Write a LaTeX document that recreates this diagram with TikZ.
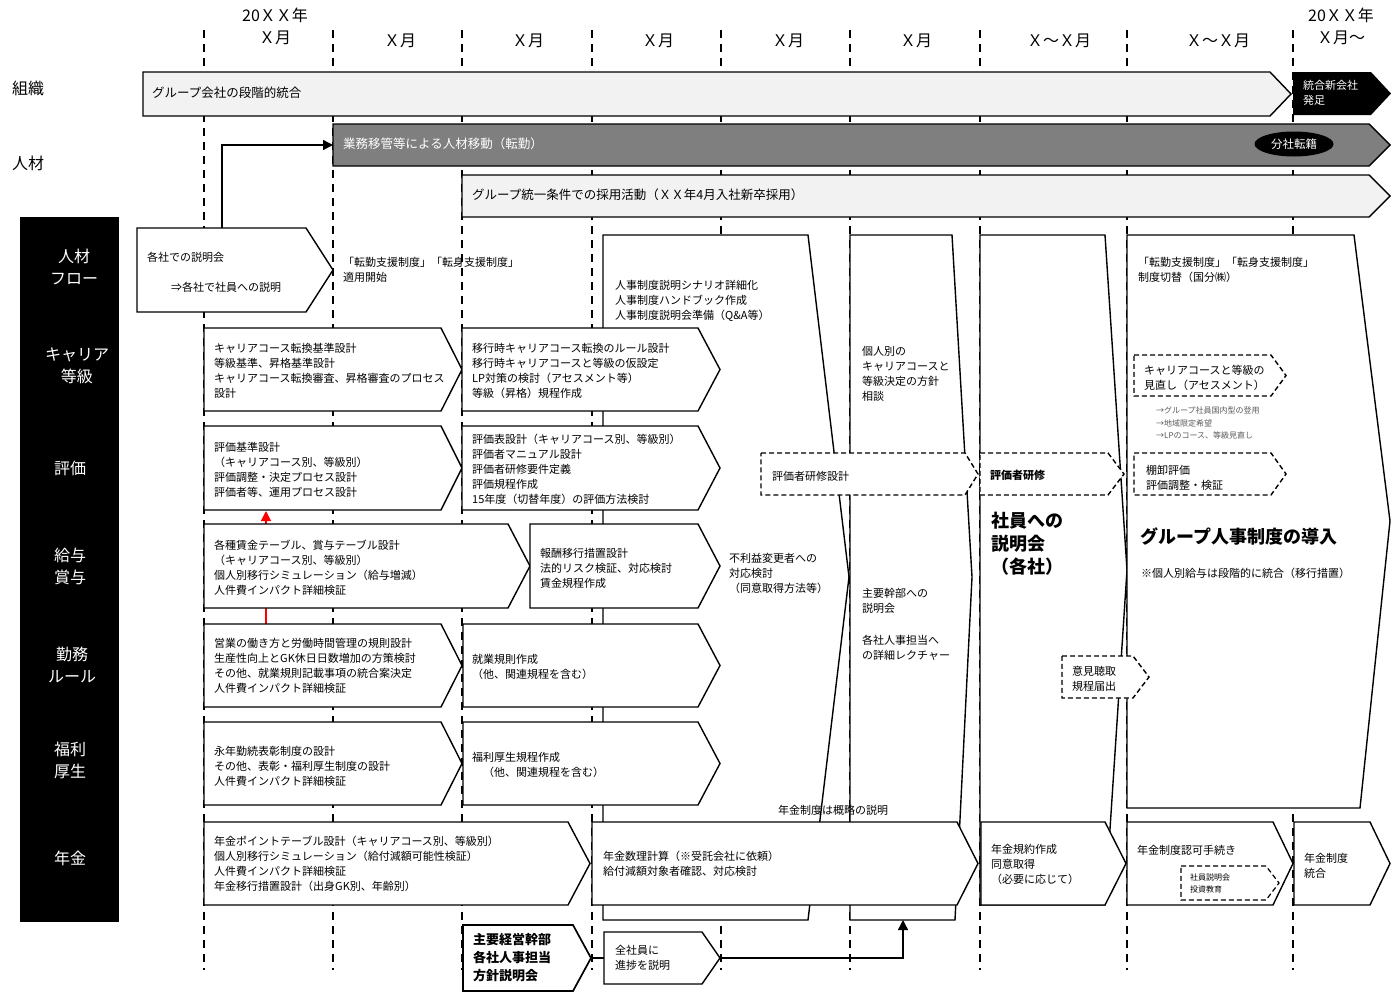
\documentclass[tikz,border=0pt]{standalone}
\usepackage{fontspec}
\setmainfont{Noto Sans CJK JP}
\usepackage{tikz}
\usetikzlibrary{arrows.meta,shapes.geometric}
\definecolor{barlight}{HTML}{F2F2F2}
\definecolor{bardark}{HTML}{7F7F7F}
\definecolor{notegray}{HTML}{595959}
\tikzset{
  guide/.style={line width=1.2pt, dash pattern=on 8pt off 6pt},
  chev/.style={draw, fill=white, line width=1.4pt},
  bar/.style={draw, fill=barlight, line width=1.4pt},
  darkbar/.style={draw, fill=bardark, line width=1.4pt},
  dashbox/.style={draw, fill=white, line width=1.4pt, dash pattern=on 5pt off 3pt},
  txt/.style={anchor=west, inner sep=0pt, align=left,
    font=\fontsize{11}{15}\selectfont},
  bartxt/.style={txt, font=\fontsize{12.5}{15}\selectfont},
  smalltxt/.style={txt, font=\fontsize{8}{12.5}\selectfont},
  hdr/.style={inner sep=0pt, align=center, font=\fontsize{16}{22}\selectfont},
  rowlab/.style={hdr, text=white},
  bigbold/.style={txt, font=\fontsize{18}{23}\selectfont\bfseries},
  redarr/.style={draw=red, line width=1.2pt,
    -{Triangle[length=10pt,width=10pt,fill=red]}},
  blkarr/.style={line width=1.4pt, -{Triangle[length=10pt,width=10pt]}},
}

\begin{document}
\begin{tikzpicture}[x=1pt,y=-1pt]
\useasboundingbox (0,0) rectangle (1397,994);
\draw[guide]
  (204,30) -- (204,970) (333,30) -- (333,970) (462,30) -- (462,970)
  (592,30) -- (592,970) (721,30) -- (721,970) (850,30) -- (850,970)
  (980,30) -- (980,970) (1127,30) -- (1127,970) (1293,30) -- (1293,970);
\draw[bar]
  (143,72) -- (1270,72) -- (1291,94) -- (1270,116) -- (143,116) -- cycle;
\fill
  (1293,72) -- (1371,72) -- (1391,93.5) -- (1371,115) -- (1293,115) -- cycle;
\draw[darkbar]
  (333,124) -- (1369,124) -- (1390,145) -- (1369,166) -- (333,166) -- cycle;
\draw[bar]
  (462,175) -- (1369,175) -- (1390,196) -- (1369,217) -- (462,217) -- cycle;
\fill (20,217) rectangle (119,922);
\draw[chev]
  (603,235) -- (808,235) -- (849,577) -- (808,920) -- (603,920) -- cycle;
\draw[chev]
  (850,235) -- (952,235) -- (972,577) -- (955,920) -- (850,920) -- cycle;
\draw[chev]
  (980,235) -- (1105,235) -- (1127,570) -- (1105,905) -- (980,905) -- cycle;
\draw[chev]
  (1127,235) -- (1354,235) -- (1390,521) -- (1360,808) -- (1127,808) -- cycle;
\draw[chev]
  (137,228) -- (306,228) -- (333,270) -- (306,312) -- (137,312) -- cycle;
\coordinate (kinmuTop) at (266,624);
\coordinate (hyokaBot) at (266,511);
\draw[redarr] (kinmuTop) -- (hyokaBot);
\draw[chev]
  (204,328) -- (441,328) -- (462,369.5) -- (441,411) -- (204,411) -- cycle;
\draw[chev]
  (462,328) -- (698,328) -- (720,369.5) -- (698,411) -- (462,411) -- cycle;
\draw[chev]
  (204,426) -- (441,426) -- (462,468) -- (441,510) -- (204,510) -- cycle;
\draw[chev]
  (462,426) -- (698,426) -- (720,468) -- (698,510) -- (462,510) -- cycle;
\draw[chev]
  (204,524) -- (508,524) -- (530,566) -- (508,608) -- (204,608) -- cycle;
\draw[chev]
  (530,524) -- (698,524) -- (720,566) -- (698,608) -- (530,608) -- cycle;
\draw[chev]
  (204,624) -- (441,624) -- (462,665.5) -- (441,707) -- (204,707) -- cycle;
\draw[chev]
  (463,624) -- (698,624) -- (720,665.5) -- (698,707) -- (463,707) -- cycle;
\draw[chev]
  (204,722) -- (441,722) -- (462,763.5) -- (441,805) -- (204,805) -- cycle;
\draw[chev]
  (463,722) -- (698,722) -- (720,763.5) -- (698,805) -- (463,805) -- cycle;
\draw[chev]
  (204,822) -- (568,822) -- (590,863.5) -- (568,905) -- (204,905) -- cycle;
\draw[chev]
  (592,822) -- (957,822) -- (978,863.5) -- (957,905) -- (592,905) -- cycle;
\draw[chev]
  (981,822) -- (1105,822) -- (1126,863.5) -- (1105,905) -- (981,905) -- cycle;
\draw[chev]
  (1127,822) -- (1273,822) -- (1293,863.5) -- (1273,905) -- (1127,905) -- cycle;
\draw[chev]
  (1294,822) -- (1370,822) -- (1390,863.5) -- (1370,905) -- (1294,905) -- cycle;
\draw[chev, line width=1.7pt]
  (463,925) -- (573,925) -- (591,958) -- (573,991) -- (463,991) -- cycle;
\draw[chev]
  (604,932) -- (702,932) -- (720,958) -- (702,984) -- (604,984) -- cycle;
\draw[dashbox]
  (761,453) -- (965,453) -- (978,474) -- (965,495) -- (761,495) -- cycle;
\draw[dashbox]
  (980,453) -- (1108,453) -- (1124,474) -- (1108,495) -- (980,495) -- cycle;
\draw[dashbox]
  (1134,355) -- (1271,355) -- (1286,375.5) -- (1271,396) -- (1134,396) -- cycle;
\draw[dashbox]
  (1134,453) -- (1271,453) -- (1286,474) -- (1271,495) -- (1134,495) -- cycle;
\draw[dashbox]
  (1062,656) -- (1133,656) -- (1149,677) -- (1133,698) -- (1062,698) -- cycle;
\draw[dashbox, line width=1.2pt]
  (1181,866) -- (1266,866) -- (1279,883) -- (1266,900) -- (1181,900) -- cycle;
\node[hdr] (h0) at (275,26) {20ＸＸ年\\Ｘ月};
\node[hdr] (h1) at (400,41) {Ｘ月};
\node[hdr] (h2) at (528,41) {Ｘ月};
\node[hdr] (h3) at (658,41) {Ｘ月};
\node[hdr] (h4) at (788,41) {Ｘ月};
\node[hdr] (h5) at (916,41) {Ｘ月};
\node[hdr] (h6) at (1059,41) {Ｘ～Ｘ月};
\node[hdr] (h7) at (1218,41) {Ｘ～Ｘ月};
\node[hdr] (h8) at (1341,26) {20ＸＸ年\\Ｘ月～};
\node[hdr, anchor=west] (soshiki) at (12,88) {組織};
\node[hdr, anchor=west] (jinzai) at (12,163) {人材};
\node[rowlab] (lFlow) at (74,267) {人材\\フロー};
\node[rowlab] (lCareer) at (77,366) {キャリア\\等級};
\node[rowlab] (lHyoka) at (70,468) {評価};
\node[rowlab] (lKyuyo) at (70,566) {給与\\賞与};
\node[rowlab] (lKinmu) at (72,665) {勤務\\ルール};
\node[rowlab] (lFukuri) at (70,760) {福利\\厚生};
\node[rowlab] (lNenkin) at (70,858) {年金};
\node[bartxt] (togo) at (152,93) {グループ会社の段階的統合};
\node[txt, text=white] (togoNew) at (1303,92.5) {統合新会社\\発足};
\node[bartxt, text=white] (ido) at (343,144) {業務移管等による人材移動（転勤）};
\node[ellipse, fill=black, text=white, inner sep=0pt, minimum width=79pt,
  minimum height=25pt, font=\fontsize{11.5}{15}\selectfont] (bunsha) at (1294,144)
  {分社転籍};
\node[bartxt] (saiyo) at (472,195)
  {グループ統一条件での採用活動（ＸＸ年4月入社新卒採用）};
\node[txt] (setsu1) at (147,257) {各社での説明会};
\node[txt] (setsu2) at (171,287) {⇒各社で社員への説明};
\node[txt] (tekiyo) at (343,269.5) {「転勤支援制度」「転身支援制度」\\適用開始};
\node[txt] (colA1) at (615,301)
  {人事制度説明シナリオ詳細化\\人事制度ハンドブック作成\\人事制度説明会準備（Q\&A等）};
\node[txt] (colA2) at (729,573) {不利益変更者への\\対応検討\\（同意取得方法等）};
\node[txt] (colA3) at (778,810) {年金制度は概略の説明};
\node[txt] (colB1) at (862,374)
  {個人別の\\キャリアコースと\\等級決定の方針\\相談};
\node[txt] (colB2) at (862,601) {主要幹部への\\説明会};
\node[txt] (colB3) at (862,647.5) {各社人事担当へ\\の詳細レクチャー};
\node[txt] (kenshuS) at (772,476) {評価者研修設計};
\node[txt, font=\fontsize{11}{15}\selectfont\bfseries] (kenshu) at (990,475)
  {評価者研修};
\node[bigbold] (shainSetsu) at (991,544) {社員への\\説明会\\（各社）};
\node[txt] (iken) at (1072,678.5) {意見聴取\\規程届出};
\node[txt] (kirikae) at (1138,269.5)
  {「転勤支援制度」「転身支援制度」\\制度切替（国分㈱）};
\node[txt] (minaoshi) at (1144,377.5) {キャリアコースと等級の\\見直し（アセスメント）};
\node[smalltxt, text=notegray] (minaoshiNote) at (1156,423)
  {→グループ社員国内型の登用\\→地域限定希望\\→LPのコース、等級見直し};
\node[txt] (tanaoroshi) at (1146,477.5) {棚卸評価\\評価調整・検証};
\node[bigbold] (donyu) at (1140,536) {グループ人事制度の導入};
\node[txt] (kyuyoNote) at (1141,573) {※個人別給与は段階的に統合（移行措置）};
\node[txt] (car1) at (214,370.5)
  {キャリアコース転換基準設計\\等級基準、昇格基準設計\\
   キャリアコース転換審査、昇格審査のプロセス\\設計};
\node[txt] (car2) at (472,370.5)
  {移行時キャリアコース転換のルール設計\\移行時キャリアコースと等級の仮設定\\
   LP対策の検討（アセスメント等）\\等級（昇格）規程作成};
\node[txt] (hyo1) at (214,469.5)
  {評価基準設計\\（キャリアコース別、等級別）\\評価調整・決定プロセス設計\\
   評価者等、運用プロセス設計};
\node[txt] (hyo2) at (472,469)
  {評価表設計（キャリアコース別、等級別）\\評価者マニュアル設計\\評価者研修要件定義\\
   評価規程作成\\15年度（切替年度）の評価方法検討};
\node[txt] (kyu1) at (214,568)
  {各種賃金テーブル、賞与テーブル設計\\（キャリアコース別、等級別）\\
   個人別移行シミュレーション（給与増減）\\人件費インパクト詳細検証};
\node[txt] (kyu2) at (540,568)
  {報酬移行措置設計\\法的リスク検証、対応検討\\賃金規程作成};
\node[txt] (kin1) at (214,666)
  {営業の働き方と労働時間管理の規則設計\\生産性向上とGK休日日数増加の方策検討\\
   その他、就業規則記載事項の統合案決定\\人件費インパクト詳細検証};
\node[txt] (kin2) at (472,666.5) {就業規則作成\\（他、関連規程を含む）};
\node[txt] (fuku1) at (214,766)
  {永年勤続表彰制度の設計\\その他、表彰・福利厚生制度の設計\\人件費インパクト詳細検証};
\node[txt] (fuku2) at (472,765) {福利厚生規程作成\\　（他、関連規程を含む）};
\node[txt] (nen1) at (214,864)
  {年金ポイントテーブル設計（キャリアコース別、等級別）\\
   個人別移行シミュレーション（給付減額可能性検証）\\人件費インパクト詳細検証\\
   年金移行措置設計（出身GK別、年齢別）};
\node[txt] (nen2) at (603,864)
  {年金数理計算（※受託会社に依頼）\\給付減額対象者確認、対応検討};
\node[txt] (nen3) at (991,864) {年金規約作成\\同意取得\\（必要に応じて）};
\node[txt] (nen4) at (1137,850) {年金制度認可手続き};
\node[smalltxt] (nen4sub) at (1190,883.5) {社員説明会\\投資教育};
\node[txt] (nen5) at (1304,865.5) {年金制度\\統合};
\node[txt, font=\fontsize{13}{18}\selectfont\bfseries] (hoshin) at (473,958)
  {主要経営幹部\\各社人事担当\\方針説明会};
\node[txt] (zenin) at (615,958) {全社員に\\進捗を説明};
\coordinate (setsuTop) at (222,228);
\coordinate (idoL) at (333,145);
\draw[blkarr] (setsuTop) |- (idoL);
\coordinate (hoshinTip) at (591,958);
\coordinate (zenL) at (604,958);
\draw[line width=1.4pt] (hoshinTip) -- (zenL);
\coordinate (zenTip) at (720,958);
\coordinate (colBbot) at (903,920);
\draw[blkarr] (zenTip) -| (colBbot);
\end{tikzpicture}
\end{document}
